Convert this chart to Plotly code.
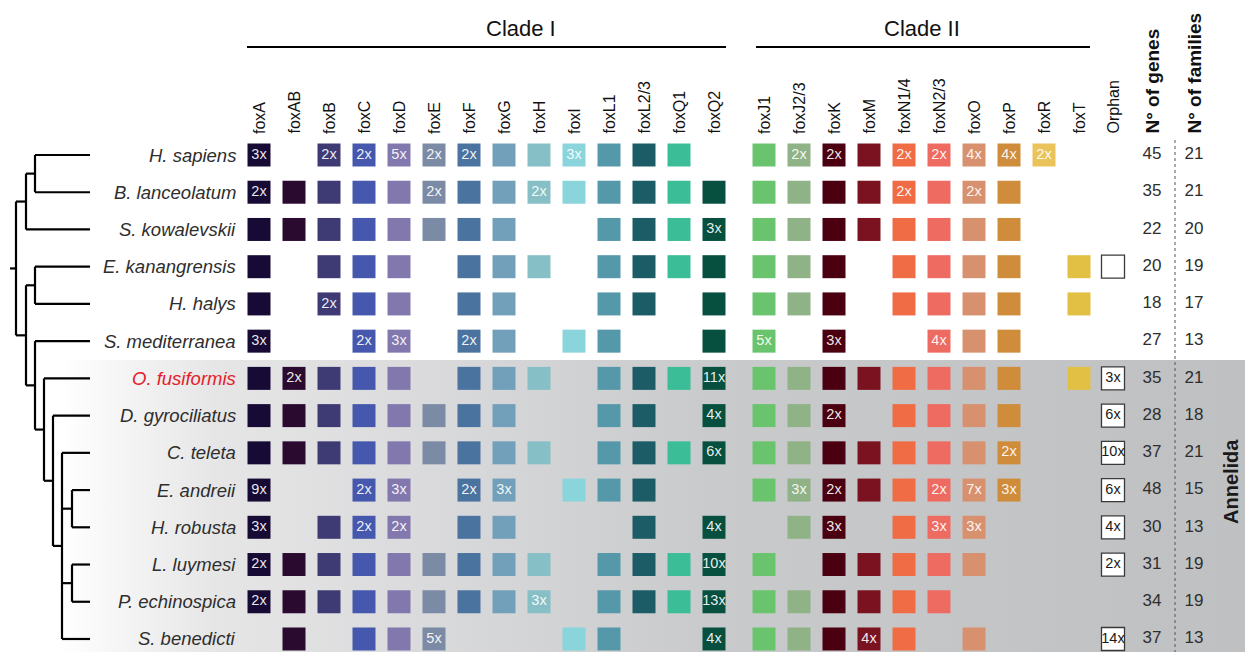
import plotly.graph_objects as go

# ---- data -------------------------------------------------------------
species = ["H. sapiens", "B. lanceolatum", "S. kowalevskii", "E. kanangrensis",
           "H. halys", "S. mediterranea", "O. fusiformis", "D. gyrociliatus",
           "C. teleta", "E. andreii", "H. robusta", "L. luymesi",
           "P. echinospica", "S. benedicti"]

clade1 = ["foxA", "foxAB", "foxB", "foxC", "foxD", "foxE", "foxF", "foxG",
          "foxH", "foxI", "foxL1", "foxL2/3", "foxQ1", "foxQ2"]
clade2 = ["foxJ1", "foxJ2/3", "foxK", "foxM", "foxN1/4", "foxN2/3", "foxO",
          "foxP", "foxR", "foxT"]

# gene copies per family (0 = absent, 1 = single copy, n = n copies)
#                   A AB B C D E F G H I L1 L23 Q1 Q2  J1 J23 K M N14 N23 O P R T
H_SAPIENS       = [3, 0, 2, 2, 5, 2, 2, 1, 1, 3, 1, 1, 1, 0,   1, 2, 2, 1, 2, 2, 4, 4, 2, 0]
B_LANCEOLATUM   = [2, 1, 1, 1, 1, 2, 1, 1, 2, 1, 1, 1, 1, 1,   1, 1, 1, 1, 2, 1, 2, 1, 0, 0]
S_KOWALEVSKII   = [1, 1, 1, 1, 1, 1, 1, 1, 0, 0, 1, 1, 1, 3,   1, 1, 1, 1, 1, 1, 1, 1, 0, 0]
E_KANANGRENSIS  = [1, 0, 1, 1, 1, 0, 1, 1, 1, 0, 1, 1, 1, 1,   1, 1, 1, 0, 1, 1, 1, 1, 0, 1]
H_HALYS         = [1, 0, 2, 1, 1, 0, 1, 1, 0, 0, 1, 1, 0, 1,   1, 1, 1, 0, 1, 1, 1, 1, 0, 1]
S_MEDITERRANEA  = [3, 0, 0, 2, 3, 0, 2, 1, 0, 1, 1, 0, 0, 1,   5, 0, 3, 0, 0, 4, 1, 1, 0, 0]
O_FUSIFORMIS    = [1, 2, 1, 1, 1, 0, 1, 1, 1, 0, 1, 1, 1, 11,  1, 1, 1, 1, 1, 1, 1, 1, 0, 1]
D_GYROCILIATUS  = [1, 1, 1, 1, 1, 1, 1, 1, 0, 0, 1, 1, 0, 4,   1, 1, 2, 0, 1, 1, 1, 1, 0, 0]
C_TELETA        = [1, 1, 1, 1, 1, 1, 1, 1, 1, 0, 1, 1, 1, 6,   1, 1, 1, 1, 1, 1, 1, 2, 0, 0]
E_ANDREII       = [9, 0, 0, 2, 3, 0, 2, 3, 0, 1, 1, 1, 0, 0,   1, 3, 2, 1, 1, 2, 7, 3, 0, 0]
H_ROBUSTA       = [3, 0, 1, 2, 2, 0, 1, 1, 0, 0, 0, 1, 0, 4,   0, 1, 3, 0, 1, 3, 3, 0, 0, 0]
L_LUYMESI       = [2, 1, 1, 1, 1, 1, 1, 1, 1, 0, 1, 1, 1, 10,  1, 0, 1, 1, 1, 1, 1, 0, 0, 0]
P_ECHINOSPICA   = [2, 1, 1, 1, 1, 1, 1, 1, 3, 0, 1, 1, 1, 13,  1, 1, 1, 1, 1, 1, 0, 0, 0, 0]
S_BENEDICTI     = [0, 1, 0, 1, 1, 5, 0, 0, 0, 1, 1, 0, 0, 4,   1, 1, 1, 4, 1, 0, 1, 0, 0, 0]

orphans   = [0, 0, 0, 1, 0, 0, 3, 6, 10, 6, 4, 2, 0, 14]
n_genes   = [45, 35, 22, 20, 18, 27, 35, 28, 37, 48, 30, 31, 34, 37]
n_families = [21, 21, 20, 19, 17, 13, 21, 18, 21, 15, 13, 19, 19, 13]

family_colors = ["#170a34", "#2b0a30", "#3e3a74", "#4558ad", "#8278ae", "#7b8ba6",
                 "#4a739f", "#72a0ba", "#86bfc5", "#8ad5db", "#5598a9", "#1b5c66",
                 "#3bbd98", "#07503f",
                 "#6ac46e", "#8fb387", "#4a0010", "#7b1220", "#f06c45", "#ee6b62",
                 "#d8916f", "#cf8c3a", "#ebc35b", "#e2c044"]

copies = [H_SAPIENS, B_LANCEOLATUM, S_KOWALEVSKII, E_KANANGRENSIS, H_HALYS,
          S_MEDITERRANEA, O_FUSIFORMIS, D_GYROCILIATUS, C_TELETA, E_ANDREII,
          H_ROBUSTA, L_LUYMESI, P_ECHINOSPICA, S_BENEDICTI]

# cladogram: internal nodes as (x position, children); leaves are row indices
tree = (16, [(26, [(35, [0, 1]), 2]),
             (26, [(35, [3, 4]),
                   (35, [5, (44, [6, (53, [7, (62, [8, (72, [9, 10]),
                                                    (72, [11, 12]), 13])])])])])])

# ---- layout geometry ----------------------------------------------------
W, H = 1245, 652
ROW0, ROWSTEP = 155, 37.23          # pixel centre of first row, row pitch
COL0, COLSTEP = 259, 35             # first family column, column pitch
CLADE2_X0 = 764
ORPHAN_X, GENES_X, FAM_X = 1113, 1152, 1194
TIP_X = 90
FONT = "Liberation Sans, Arial, Helvetica, sans-serif"
TXT = "#2e2e2e"

def py(px):
    """pixel y -> row units on the y axis"""
    return (px - ROW0) / ROWSTEP

col_x = [COL0 + COLSTEP * i for i in range(len(clade1))] + \
        [CLADE2_X0 + COLSTEP * j for j in range(len(clade2))]
families = clade1 + clade2

fig = go.Figure()

# Annelida band with horizontal fade
fig.add_trace(go.Scatter(
    x=[60, W, W, 60, 60], y=[py(360), py(360), py(H + 2), py(H + 2), py(360)],
    mode="lines", fill="toself", line=dict(width=0),
    fillgradient=dict(type="horizontal",
                      colorscale=[[0, "#ffffff"], [0.13, "#e6e6e7"],
                                  [0.55, "#c9cacc"], [1, "#bfc0c2"]]),
    hoverinfo="skip", showlegend=False))

# ---- cladogram ----------------------------------------------------------
tx, ty = [], []

def node_y(n):
    if isinstance(n, int):
        return n
    ys = [node_y(c) for c in n[1]]
    return (ys[0] + ys[-1]) / 2

def draw(n, parent_x):
    y = node_y(n)
    if isinstance(n, int):
        tx.extend([parent_x, TIP_X, None]); ty.extend([y, y, None])
        return
    x, kids = n
    tx.extend([parent_x, x, None]); ty.extend([y, y, None])
    ys = [node_y(c) for c in kids]
    tx.extend([x, x, None]); ty.extend([ys[0], ys[-1], None])
    for c in kids:
        draw(c, x)

draw(tree, 10)
fig.add_trace(go.Scatter(x=tx, y=ty, mode="lines",
                         line=dict(color="#000000", width=2.2),
                         hoverinfo="skip", showlegend=False))

# ---- family presence squares -------------------------------------------
sx, sy, sc, lx, ly, lt = [], [], [], [], [], []
for r, row in enumerate(copies):
    for c, n in enumerate(row):
        if n > 0:
            sx.append(col_x[c]); sy.append(r); sc.append(family_colors[c])
            if n > 1:
                lx.append(col_x[c]); ly.append(r); lt.append(f"{n}x")

fig.add_trace(go.Scatter(x=sx, y=sy, mode="markers",
                         marker=dict(symbol="square", size=23, color=sc,
                                     line=dict(width=0)),
                         hoverinfo="skip", showlegend=False))
fig.add_trace(go.Scatter(x=lx, y=ly, mode="text", text=lt,
                         textfont=dict(family=FONT, size=14.5,
                                       color="rgba(255,255,255,0.92)"),
                         hoverinfo="skip", showlegend=False))

# ---- orphans --------------------------------------------------------------
ox = [ORPHAN_X for n in orphans if n > 0]
oy = [r for r, n in enumerate(orphans) if n > 0]
ot = [f"{n}x" if n > 1 else "" for n in orphans if n > 0]
fig.add_trace(go.Scatter(x=ox, y=oy, mode="markers+text", text=ot,
                         textposition="middle center",
                         textfont=dict(family=FONT, size=14.5, color="#1a1a1a"),
                         marker=dict(symbol="square", size=23, color="#ffffff",
                                     line=dict(width=1.3, color="#3a3a3a")),
                         hoverinfo="skip", showlegend=False))

# ---- totals ---------------------------------------------------------------
rows = list(range(len(species)))
fig.add_trace(go.Scatter(x=[GENES_X] * len(rows), y=rows, mode="text",
                         text=[str(v) for v in n_genes],
                         textfont=dict(family=FONT, size=17, color=TXT),
                         hoverinfo="skip", showlegend=False))
fig.add_trace(go.Scatter(x=[FAM_X] * len(rows), y=rows, mode="text",
                         text=[str(v) for v in n_families],
                         textfont=dict(family=FONT, size=17, color=TXT),
                         hoverinfo="skip", showlegend=False))

# ---- annotations ------------------------------------------------------------
ann = []
for r, name in enumerate(species):
    color = "#e4202a" if name == "O. fusiformis" else TXT
    ann.append(dict(x=238, y=r, xref="x", yref="y", text=f"<i>{name}</i>",
                    showarrow=False, xanchor="right", yanchor="middle",
                    font=dict(family=FONT, size=18.5, color=color)))

header_labels = families + ["Orphan"]
header_x = col_x + [ORPHAN_X]
for lab, x in zip(header_labels, header_x):
    ann.append(dict(x=x, y=py(136), xref="x", yref="y", text=lab,
                    showarrow=False, textangle=-90, xanchor="center",
                    yanchor="bottom", font=dict(family=FONT, size=16, color="#111")))
for lab, x in [("N° of genes", GENES_X), ("N° of families", FAM_X)]:
    ann.append(dict(x=x, y=py(136), xref="x", yref="y", text=f"<b>{lab}</b>",
                    showarrow=False, textangle=-90, xanchor="center",
                    yanchor="bottom", font=dict(family=FONT, size=19, color="#111")))

ann.append(dict(x=521, y=py(28), xref="x", yref="y", text="Clade I",
                showarrow=False, font=dict(family=FONT, size=22, color="#111")))
ann.append(dict(x=922, y=py(28), xref="x", yref="y", text="Clade II",
                showarrow=False, font=dict(family=FONT, size=22, color="#111")))
ann.append(dict(x=1231, y=py(482), xref="x", yref="y", text="<b>Annelida</b>",
                showarrow=False, textangle=-90,
                font=dict(family=FONT, size=20, color="#1a1a1a")))

shapes = [
    dict(type="line", xref="x", yref="y", x0=247, x1=726, y0=py(47), y1=py(47),
         line=dict(color="#000", width=2)),
    dict(type="line", xref="x", yref="y", x0=756, x1=1090, y0=py(47), y1=py(47),
         line=dict(color="#000", width=2)),
    dict(type="line", xref="x", yref="y", x0=1175, x1=1175, y0=py(140), y1=py(H),
         line=dict(color="#555", width=1, dash="dot")),
]

fig.update_layout(
    width=W, height=H, margin=dict(l=0, r=0, t=0, b=0),
    paper_bgcolor="#ffffff", plot_bgcolor="rgba(0,0,0,0)",
    xaxis=dict(range=[0, W], visible=False, fixedrange=True),
    yaxis=dict(range=[py(H), py(0)], visible=False, fixedrange=True),
    annotations=ann, shapes=shapes, showlegend=False,
)

fig.write_html("out.html")
